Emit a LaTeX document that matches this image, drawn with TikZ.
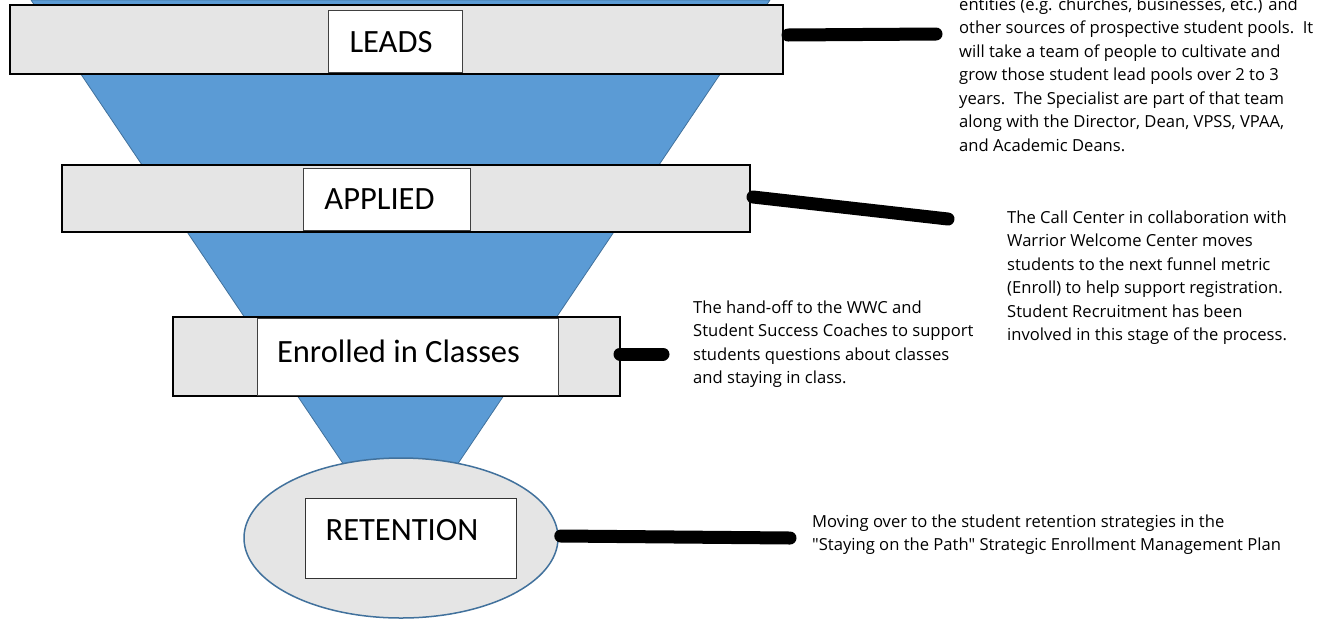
\documentclass[tikz,border=0pt]{standalone}
\usepackage{fontspec}
\setmainfont{Open Sans}
\newfontfamily\labfont{Carlito}
\newfontfamily\descfont{Open Sans}
\usetikzlibrary{shapes.geometric}
\definecolor{funnelblue}{HTML}{5B9BD5}
\definecolor{funnelline}{HTML}{41719C}
\definecolor{boxgray}{HTML}{E5E5E5}
\tikzset{
  stagebar/.style={draw=black, line width=2pt, fill=boxgray, inner sep=0pt},
  labelbox/.style={draw=black!75, line width=0.8pt, fill=white, inner sep=0pt},
  labeltext/.style={font=\labfont\fontsize{32.5}{35}\selectfont, inner sep=0pt},
  desc/.style={font=\descfont\fontsize{16.6}{23.5}\selectfont, align=left, inner sep=0pt, anchor=north west},
  link/.style={line width=13pt, line cap=round, black}
}
\begin{document}
\begin{tikzpicture}[x=1pt,y=-1pt]
\useasboundingbox (0,0) rectangle (1319,622);
\clip (0,0) rectangle (1319,622);
% funnel
\path[fill=funnelblue, draw=funnelline, line width=0.8pt]
  (31,0) -- (770,0) -- (457,465) -- (344,465) -- cycle;
% LEADS
\node[stagebar, minimum width=773pt, minimum height=69pt] (leadsbar) at (396.5,39.5) {};
\node[labelbox, minimum width=134pt, minimum height=62pt] (leads) at (395,41) {};
\node[labeltext] (leadstxt) at (391,42) {LEADS};
% APPLIED
\node[stagebar, minimum width=688pt, minimum height=67pt] (appliedbar) at (406,198.5) {};
\node[labelbox, minimum width=167pt, minimum height=62pt] (applied) at (386.5,199) {};
\node[labeltext] (appliedtxt) at (379.5,199) {APPLIED};
% Enrolled
\node[stagebar, minimum width=447pt, minimum height=79pt] (enrolledbar) at (396.5,356.5) {};
\node[labelbox, minimum width=301pt, minimum height=77pt] (enrolled) at (407.5,356.5) {};
\node[labeltext] (enrolledtxt) at (398.5,351) {Enrolled in Classes};
% Retention
\node[ellipse, draw=funnelline, line width=1.5pt, fill=boxgray, minimum width=314pt, minimum height=160pt, inner sep=0pt] (retell) at (401,538) {};
\node[draw=black!80, line width=1pt, fill=white, minimum width=211pt, minimum height=80pt, inner sep=0pt] (retention) at (410.5,538) {};
\node[labeltext] (retentiontxt) at (402,530) {RETENTION};
% connectors
\coordinate (c1) at (936,34);
\coordinate (c2) at (948,219);
\coordinate (c3) at (663,354);
\coordinate (c4) at (790,538);
\draw[link] (leadsbar.east |- 0,35) ++(4,0) -- (c1);
\draw[link] (appliedbar.east |- 0,197) ++(2,0) -- (c2);
\draw[link] (enrolledbar.east |- 0,354) ++(-1,0) -- (c3);
\draw[link] (retell.east |- 0,536) ++(2,0) -- (c4);
% descriptions
\node[desc] (d1) at (959,-2.5) {entities (e.g. churches, businesses, etc.) and\\
other sources of prospective student pools.\ \ It\\
will take a team of people to cultivate and\\
grow those student lead pools over 2 to 3\\
years.\ \ The Specialist are part of that team\\
along with the Director, Dean, VPSS, VPAA,\\
and Academic Deans.};
\node[desc] (d2) at (1007,210.5) {The Call Center in collaboration with\\
Warrior Welcome Center moves\\
students to the next funnel metric\\
(Enroll) to help support registration.\\
Student Recruitment has been\\
involved in this stage of the process.};
\node[desc] (d3) at (693,300.5) {The hand-off to the WWC and\\
Student Success Coaches to support\\
students questions about classes\\
and staying in class.};
\node[desc] (d4) at (812,514.5) {Moving over to the student retention strategies in the\\
"Staying on the Path" Strategic Enrollment Management Plan};
\end{tikzpicture}
\end{document}
